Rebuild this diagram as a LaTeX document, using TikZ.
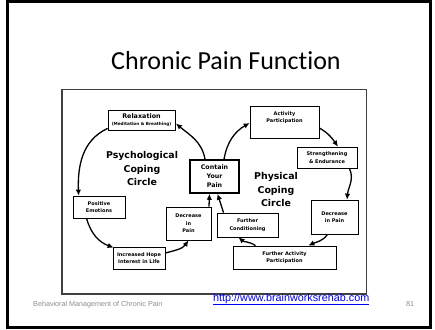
\documentclass[tikz,border=0pt]{standalone}
\usepackage{fontspec}
\setmainfont[Ligatures=NoCommon]{Carlito}
\newfontfamily\diagfont{DejaVu Sans}
\newfontfamily\footfont{Liberation Sans}
\usetikzlibrary{arrows.meta,calc}
\definecolor{footgray}{gray}{0.55}
\definecolor{linkblue}{RGB}{0,0,240}

\begin{document}
\begin{tikzpicture}[x=1pt,y=-1pt,
  box/.style={draw=black,line width=0.8pt,fill=white,inner sep=0pt,align=center,
    font=\diagfont\bfseries\fontsize{5}{7.5}\selectfont},
  circlelabel/.style={align=center,inner sep=0pt,
    font=\diagfont\bfseries\fontsize{9.4}{13.8}\selectfont},
  flow/.style={line width=1.3pt,-{Latex[length=6pt,width=5.5pt]}},
  foot/.style={inner sep=0pt,anchor=base,text=footgray,font=\footfont\fontsize{7.2}{8}\selectfont}]

\useasboundingbox (0,0) rectangle (435,329);

% slide frame and diagram frame
\draw[line width=3pt] (7,1.5) rectangle (430,327);
\draw[line width=1.2pt,draw=black!75] (62,89.5) rectangle (366.5,294);

% title
\node[inner sep=0pt,anchor=base,font=\fontsize{26}{30}\selectfont] (title) at (226,69) {Chronic Pain Function};

% psychological circle
\node[box,minimum width=67pt,minimum height=20pt] (relax) at (141.5,120)
  {\fontsize{6.4}{8.5}\selectfont Relaxation\\[-1pt]\fontsize{4.2}{5}\selectfont(Meditation \& Breathing)};
\node[box,minimum width=52pt,minimum height=22pt] (pos) at (99,207) {Positive\\Emotions};
\node[box,minimum width=52pt,minimum height=22pt] (incr) at (139,258) {Increased Hope\\Interest in Life};
\node[box,minimum width=45pt,minimum height=33pt] (decL) at (188.5,223.5) {Decrease\\in\\Pain};

% centre
\node[box,line width=1.6pt,minimum width=49pt,minimum height=33pt,
  font=\diagfont\bfseries\fontsize{6.3}{9}\selectfont] (contain) at (214.5,176.5) {Contain\\Your\\Pain};

% physical circle
\node[box,minimum width=69pt,minimum height=32pt] (act) at (284.5,122) {Activity\\Participation\\[2pt]};
\node[box,minimum width=60pt,minimum height=21pt] (strength) at (327,157.5) {Strengthening\\\& Endurance};
\node[box,minimum width=47pt,minimum height=34pt] (decR) at (334.5,217) {Decrease\\in Pain};
\node[box,minimum width=103pt,minimum height=23pt] (furtherA) at (284.5,257.5) {Further Activity\\Participation};
\node[box,minimum width=61pt,minimum height=24pt] (furtherC) at (247.5,225) {Further\\Conditioning};

% circle titles
\node[circlelabel] (psych) at (142,168.5) {Psychological\\Coping\\Circle};
\node[circlelabel] (phys) at (276,189.5) {Physical\\Coping\\Circle};

% psychological loop
\draw[flow] ($(contain.north)+(-9.5,0)$) to[out=100,in=-40] ($(relax.east)+(0.5,3.5)$);
\draw[flow] ($(relax.south west)+(0,-2)$) to[out=205,in=92] ($(pos.north west)+(6,0)$);
\draw[flow] ($(pos.south west)+(14,0)$) to[out=-75,in=160] ($(incr.north west)+(1,1)$);
\draw[flow] ($(incr.east)+(0,-5)$) to[out=15,in=-125] (decL.south);
\draw[flow] ($(decL.north)+(20.5,0)$) -- ($(contain.south)+(-5,0)$);

% physical loop
\draw[flow] ($(contain.north)+(9.5,0)$) to[out=80,in=-150] ($(act.west)+(0,1)$);
\draw[flow] ($(act.east)+(0,6)$) to[out=-30,in=125] ($(strength.north)+(11,0)$);
\draw[flow] ($(strength.south east)+(-8,0)$) to[out=-65,in=85] ($(decR.north)+(12.5,0)$);
\draw[flow] ($(decR.south)+(-7,0)$) to[out=-125,in=25] ($(furtherA.north east)+(-28,0)$);
\draw[flow] ($(furtherA.north)+(-29,0)$) to[out=145,in=-40] ($(furtherC.south)+(-9,0)$);
\draw[flow] ($(furtherC.north)+(-24,0)$) -- ($(contain.south)+(3,0)$);

% footer
\node[foot,anchor=base west] (footleft) at (33,306) {Behavioral Management of Chronic Pain};
\node[inner sep=0pt,anchor=base west,text=linkblue,font=\footfont\fontsize{10.8}{12}\selectfont] (link)
  at (213,301) {\underline{http://www.brainworksrehab.com}};
\node[foot] (pagenum) at (410,306) {81};
\end{tikzpicture}
\end{document}
